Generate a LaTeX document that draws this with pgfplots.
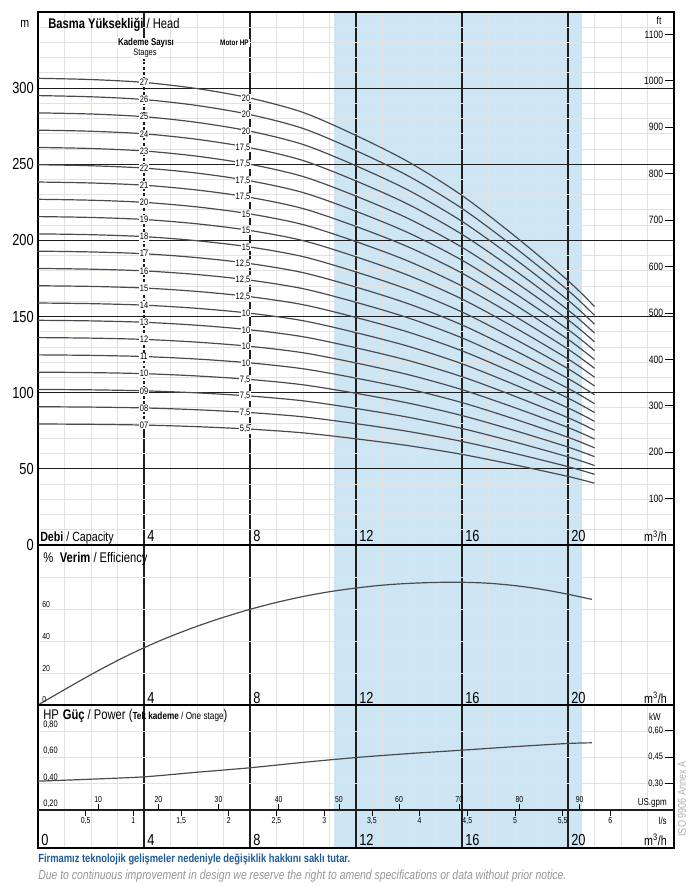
\documentclass[border=0pt]{standalone}
\usepackage{pgfplots}
\pgfplotsset{compat=1.18}
\usepackage{pgfplotstable}
\usepackage{fontspec}
\setmainfont{Liberation Sans}[FakeStretch=0.8]

\definecolor{band}{RGB}{206,230,243}
\definecolor{crv}{RGB}{72,76,82}
\definecolor{gl}{RGB}{226,226,226}
\definecolor{gd}{RGB}{30,30,30}
\definecolor{fblue}{RGB}{30,90,150}
\definecolor{fgray}{RGB}{150,150,150}
\definecolor{isogray}{RGB}{175,175,175}

\newcommand\fs[1]{\fontsize{#1}{#1}\selectfont}

% head per stage count, m
\pgfplotstableread{
Q s7 s8 s9 s10 s11 s12 s13 s14 s15 s16 s17 s18 s19 s20 s21 s22 s23 s24 s25 s26 s27
0 79.45 90.80 102.15 113.5 124.85 136.20 147.55 158.90 170.25 181.60 192.95 204.30 215.65 227.0 238.35 249.70 261.05 272.40 283.75 295.10 306.45
2 79.24 90.56 101.88 113.2 124.52 135.84 147.16 158.48 169.80 181.12 192.44 203.76 215.08 226.4 237.72 249.04 260.36 271.68 283.00 294.32 305.64
4 78.75 90.00 101.25 112.5 123.75 135.00 146.25 157.50 168.75 180.00 191.25 202.50 213.75 225.0 236.25 247.50 258.75 270.00 281.25 292.50 303.75
6 77.70 88.80 99.90 111.0 122.10 133.20 144.30 155.40 166.50 177.60 188.70 199.80 210.90 222.0 233.10 244.20 255.30 266.40 277.50 288.60 299.70
8 76.09 86.96 97.83 108.7 119.57 130.44 141.31 152.18 163.05 173.92 184.79 195.66 206.53 217.4 228.27 239.14 250.01 260.88 271.75 282.62 293.49
10 73.64 84.16 94.68 105.2 115.72 126.24 136.76 147.28 157.80 168.32 178.84 189.36 199.88 210.4 220.92 231.44 241.96 252.48 263.00 273.52 284.04
12 69.72 79.68 89.64 99.6 109.56 119.52 129.48 139.44 149.40 159.36 169.32 179.28 189.24 199.2 209.16 219.12 229.08 239.04 249.00 258.96 268.92
14 65.17 74.48 83.79 93.1 102.41 111.72 121.03 130.34 139.65 148.96 158.27 167.58 176.89 186.2 195.51 204.82 214.13 223.44 232.75 242.06 251.37
16 59.50 68.00 76.50 85.0 93.50 102.00 110.50 119.00 127.50 136.00 144.50 153.00 161.50 170.0 178.50 187.00 195.50 204.00 212.50 221.00 229.50
18 52.57 60.08 67.59 75.1 82.61 90.12 97.63 105.14 112.65 120.16 127.67 135.18 142.69 150.2 157.71 165.22 172.73 180.24 187.75 195.26 202.77
20 45.01 51.44 57.87 64.3 70.73 77.16 83.59 90.02 96.45 102.88 109.31 115.74 122.17 128.6 135.03 141.46 147.89 154.32 160.75 167.18 173.61
21 40.60 46.40 52.20 58.0 63.80 69.60 75.40 81.20 87.00 92.80 98.60 104.40 110.20 116.0 121.80 127.60 133.40 139.20 145.00 150.80 156.60
}\headdata

% efficiency, %
\pgfplotstableread{
Q E
0 0
1 9.6
2 19
3 27.8
4 35.8
5 42.9
6 49.2
7 54.8
8 59.8
9 64.1
10 67.8
11 70.8
12 73.1
13 74.9
14 76.0
15 76.6
16 76.7
17 76.1
18 74.6
19 72.3
20 69.2
20.9 66
}\effdata

% power per stage, HP
\pgfplotstableread{
Q P
0 0.42
2 0.435
4 0.453
6 0.488
8 0.522
10 0.563
12 0.600
14 0.630
16 0.656
18 0.683
20 0.707
20.9 0.712
}\powdata

\pgfplotsset{
  panel/.style={
    scale only axis, width=477pt, clip=false,
    xmin=0, xmax=24,
    xtick={4,8,12,16,20}, xticklabels={},
    minor xtick={1,2,3,5,6,7,9,10,11,13,14,15,17,18,19,21,22,23},
    grid=both,
    major x grid style={gd, line width=0.8pt},
    minor grid style={gl, line width=0.7pt},
    major y grid style={gl, line width=0.7pt},
    tick style={draw=none},
    axis line style={black, line width=1pt},
    yticklabels={},
    /pgf/number format/assume math mode=true,
  },
  crvline/.style={crv, line width=0.9pt, smooth, no markers},
}
\tikzset{
  lbl/.style={fill=white, inner sep=0.6pt, font=\fs{7}},
  big/.style={anchor=base west, inner sep=0pt, font=\fs{12}},
  px/.style={x=0.75pt, y=0.75pt, shift={(-38,-342)}},
}
\newcommand\stg[2]{\node[lbl] at (axis cs:4,#1) {#2};}
\newcommand\mhp[2]{\node[lbl, anchor=east] at ([xshift=1pt]axis cs:8,#1) {#2};}
\newcommand\fttick[2]{\draw[black, line width=0.6pt] (axis cs:24,#1) -- ++(-6.75pt,0pt) node[left, inner sep=1.2pt, font=\fs{8}] {#2};}
\newcommand\gpm[2]{\draw[black, line width=0.6pt] (axis cs:#1,0.2) -- ++(0pt,4.5pt) node[above, inner sep=0.6pt, font=\fs{6.5}] {#2};}
\newcommand\lps[2]{\draw[black, line width=0.6pt] (axis cs:#1,0.2) -- ++(0pt,-4.5pt) node[below, inner sep=0.6pt, font=\fs{6.5}] {#2};}
\newcommand\kw[2]{\draw[black, line width=0.6pt] (axis cs:24,#1) -- ++(-6.75pt,0pt) node[left, inner sep=1.2pt, font=\fs{7}] {#2};}

\begin{document}
\begin{tikzpicture}
\begin{scope}[px]
\path[use as bounding box] (0,0) rectangle (699,887);
\fill[band] (334,39) rectangle (582,875);
\end{scope}

% ---------------- head
\begin{axis}[panel, name=head, at={(0pt,0pt)}, anchor=south west,
  height=399.75pt, ymin=0, ymax=350,
  ytick={0,50,100,150,200,250,300}, yticklabels={0,50,100,150,200,250,300},
  minor ytick={10,20,...,340},
  major y grid style={gd, line width=0.8pt},
  yticklabel style={font=\fs{12}, inner sep=0pt, xshift=-3pt}]
% dashed part of the Q=4 line in the stage column
\draw[white, line width=1.4pt] (axis cs:4,76) -- (axis cs:4,318);
\draw[gd, line width=0.8pt, dash pattern=on 2.2pt off 1.6pt] (axis cs:4,76) -- (axis cs:4,318);
\pgfplotsinvokeforeach{7,...,27}{\addplot[crvline] table[x=Q, y=s#1] {\headdata};}
\stg{303.75}{27}\stg{292.50}{26}\stg{281.25}{25}\stg{270.00}{24}\stg{258.75}{23}
\stg{247.50}{22}\stg{236.25}{21}\stg{225.00}{20}\stg{213.75}{19}\stg{202.50}{18}
\stg{191.25}{17}\stg{180.00}{16}\stg{168.75}{15}\stg{157.50}{14}\stg{146.25}{13}
\stg{135.00}{12}\stg{123.75}{11}\stg{112.50}{10}\stg{101.25}{09}\stg{90.00}{08}
\stg{78.75}{07}
\mhp{293.49}{20}\mhp{282.62}{20}\mhp{271.75}{20}\mhp{260.88}{17,5}\mhp{250.01}{17,5}
\mhp{239.14}{17,5}\mhp{228.27}{17,5}\mhp{217.40}{15}\mhp{206.53}{15}\mhp{195.66}{15}
\mhp{184.79}{12,5}\mhp{173.92}{12,5}\mhp{163.05}{12,5}\mhp{152.18}{10}\mhp{141.31}{10}
\mhp{130.44}{10}\mhp{119.57}{10}\mhp{108.70}{7,5}\mhp{97.83}{7,5}\mhp{86.96}{7,5}
\mhp{76.09}{5,5}
\fttick{30.48}{100}\fttick{60.96}{200}\fttick{91.44}{300}\fttick{121.92}{400}
\fttick{152.40}{500}\fttick{182.88}{600}\fttick{213.36}{700}\fttick{243.84}{800}
\fttick{274.32}{900}\fttick{304.80}{1000}\fttick{335.28}{1100}
\end{axis}

% ---------------- efficiency
\begin{axis}[panel, name=eff, at={(head.south west)}, anchor=north west,
  height=120pt, ymin=0, ymax=100, ytick={20,40,60,80}]
\addplot[crvline] table[x=Q, y=E] {\effdata};
\end{axis}

% ---------------- power
\begin{axis}[panel, name=pow, at={(eff.south west)}, anchor=north west,
  height=107.25pt, ymin=-0.089, ymax=1.0, ytick={0.4,0.6,0.8}]
\draw[gd, line width=0.9pt] (axis cs:0,0.2) -- (axis cs:24,0.2);
\addplot[crvline] table[x=Q, y=P] {\powdata};
\gpm{2.271}{10}\gpm{4.542}{20}\gpm{6.813}{30}\gpm{9.084}{40}\gpm{11.355}{50}
\gpm{13.626}{60}\gpm{15.897}{70}\gpm{18.168}{80}\gpm{20.439}{90}
\lps{1.8}{0,5}\lps{3.6}{1}\lps{5.4}{1,5}\lps{7.2}{2}\lps{9.0}{2,5}\lps{10.8}{3}
\lps{12.6}{3,5}\lps{14.4}{4}\lps{16.2}{4,5}\lps{18.0}{5}\lps{19.8}{5,5}\lps{21.6}{6}
\kw{0.8046}{0,60}\kw{0.6035}{0,45}\kw{0.4023}{0,30}
\end{axis}

\begin{scope}[px]
% ---------------- texts, head panel
\node[anchor=base west, inner sep=0, font=\fs{10}] at (20,859) {m};
\node[anchor=base west, inner sep=0, font=\fs{10.5}] at (48,858) {\textbf{Basma Yüksekliği} / Head};
\node[anchor=base, fill=white, inner sep=0.8pt, font=\fs{7.4}\bfseries] at (146,841) {Kademe Sayısı};
\node[anchor=base, fill=white, inner sep=0.8pt, font=\fs{7}] at (145,831) {Stages};
\node[anchor=base east, fill=white, inner sep=0.8pt, font=\fs{6}\bfseries] at (250,841) {Motor HP};
\node[anchor=base, inner sep=0, font=\fs{8}] at (659,862) {ft};
\node[anchor=base west, inner sep=0, font=\fs{10}] at (40,345) {\textbf{Debi} / Capacity};
\foreach \xx/\tt in {147/4,253/8,359/12,465/16,571/20}{\node[big] at (\xx,345) {\tt};}
\node[anchor=base east, inner sep=0, font=\fs{10}] at (667,345) {m\textsuperscript{3}/h};

% ---------------- texts, efficiency panel
\node[anchor=base west, inner sep=0, font=\fs{10.5}] at (43,324) {\%\hspace{5pt}\textbf{Verim} / Efficiency};
\foreach \yy/\tt in {279.5/60,247.5/40,215.5/20,184.5/0}{\node[anchor=base west, inner sep=0, font=\fs{6.5}] at (42,\yy) {\tt};}
\foreach \xx/\tt in {147/4,253/8,359/12,465/16,571/20}{\node[big] at (\xx,184) {\tt};}
\node[anchor=base east, inner sep=0, font=\fs{10}] at (667,184) {m\textsuperscript{3}/h};

% ---------------- texts, power panel
\node[anchor=base west, inner sep=0, font=\fs{10.5}] at (43,168) {HP\hspace{3pt}\textbf{Güç} / Power ({\fs{7.7}\textbf{Tek kademe} / One stage})};
\foreach \yy/\tt in {159.4/{0,80},133.1/{0,60},106.8/{0,40},80.5/{0,20}}{\node[anchor=base west, inner sep=0, font=\fs{7}] at (43,\yy) {\tt};}
\node[anchor=base, inner sep=0, font=\fs{7.5}] at (655,167) {kW};
\node[anchor=base east, inner sep=0, font=\fs{7.5}] at (667,82) {US.gpm};
\node[anchor=base east, inner sep=0, font=\fs{7.5}] at (667,63) {l/s};
\node[big] at (41,42) {0};
\foreach \xx/\tt in {147/4,253/8,359/12,465/16,571/20}{\node[big] at (\xx,42) {\tt};}
\node[anchor=base east, inner sep=0, font=\fs{10}] at (667,42) {m\textsuperscript{3}/h};

% ---------------- side and footer
\node[rotate=90, inner sep=0, font=\fs{8.5}, text=isogray] at (682,88) {ISO 9906 Annex A};
\node[anchor=base west, inner sep=0, font=\fs{8.8}\bfseries, text=fblue] at (38,25) {Firmamız teknolojik gelişmeler nedeniyle değişiklik hakkını saklı tutar.};
\node[anchor=base west, inner sep=0, font=\fs{9.8}\itshape, text=fgray] at (38,8) {Due to continuous improvement in design we reserve the right to amend specifications or data without prior notice.};
\end{scope}
\end{tikzpicture}
\end{document}
